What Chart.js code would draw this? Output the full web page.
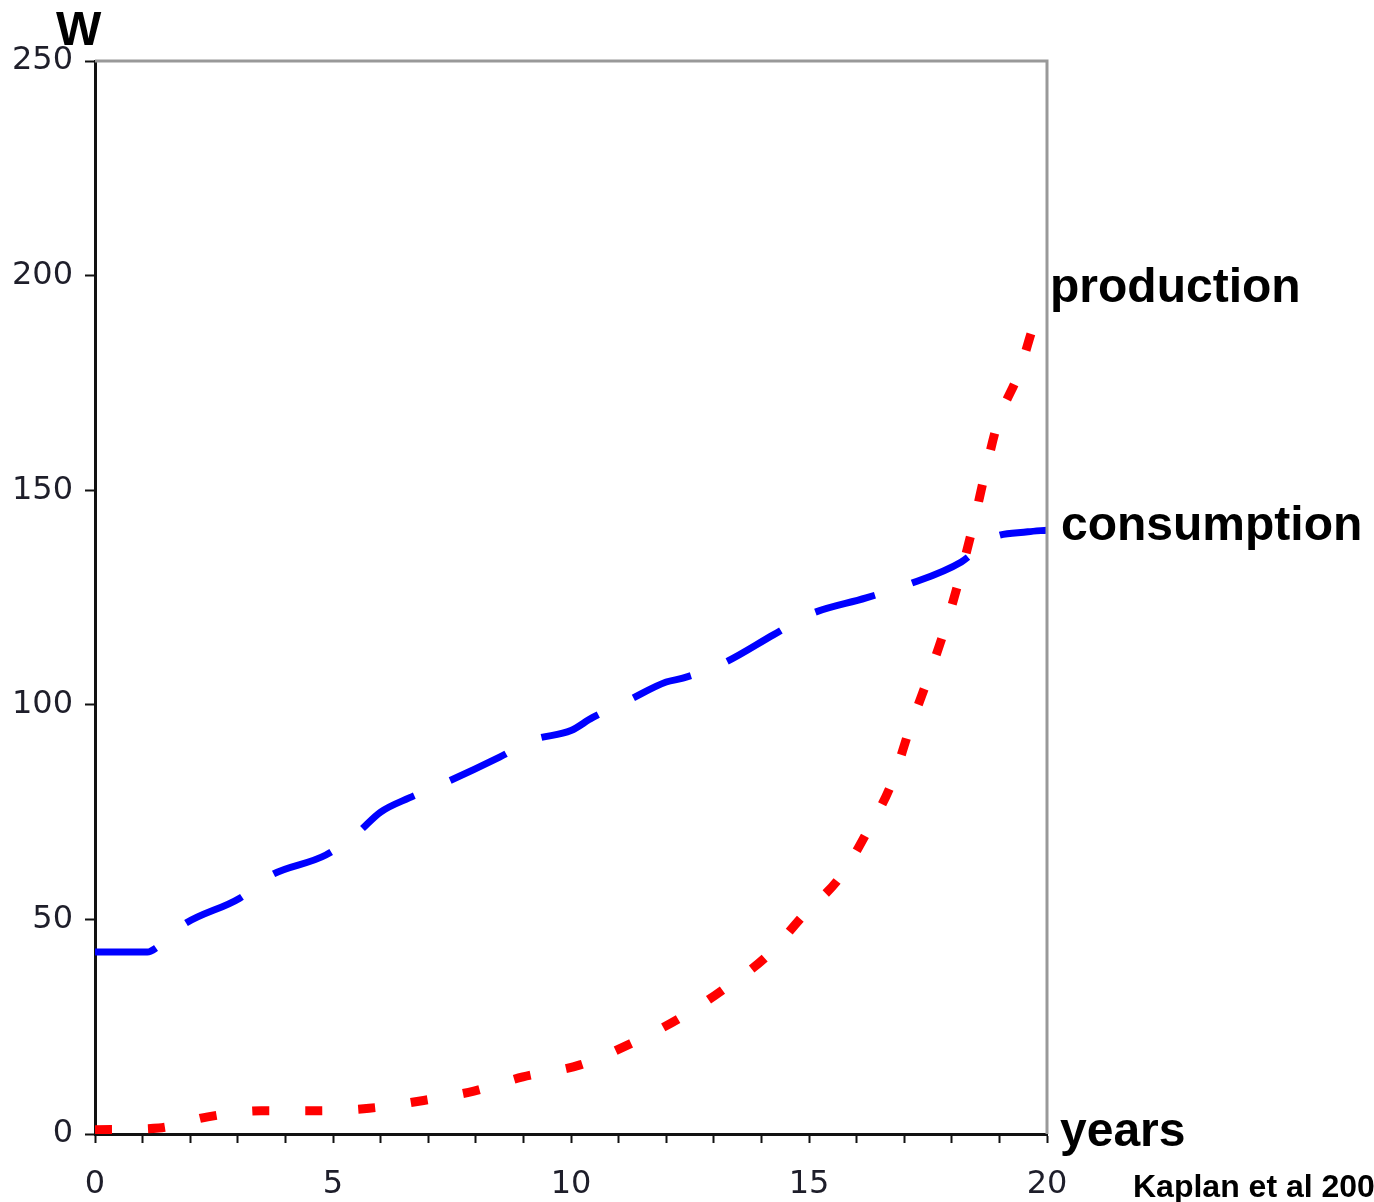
<!DOCTYPE html>
<html>
<head>
<meta charset="utf-8">
<script src="https://cdn.jsdelivr.net/npm/chart.js@4"></script>
<style>
  html, body { margin: 0; padding: 0; background: #fff; }
  #wrap { width: 1374px; height: 1202px; }
</style>
</head>
<body>
<div id="wrap"><canvas id="myChart" width="1374" height="1202"></canvas></div>
<script>
// years on the x axis, watts on the y axis
const consumptionYears = [0, 1.1, 1.3, 1.85, 3.05, 3.7, 4.85, 5.5, 6.0, 6.6, 7.35, 8.5, 9.2, 10.0, 10.45, 11.2, 12.0, 12.35, 13.2, 14.25, 15.0, 16.2, 17.05, 18.2, 18.85, 19.6, 20];
const consumption = [42.4, 42.4, 43.5, 48.7, 55, 60.3, 65, 70, 75, 78.3, 81.8, 87.8, 91.8, 94, 97, 101, 105.3, 106.2, 109.7, 116.3, 121, 124.9, 127.9, 133.3, 138.9, 140.3, 140.7];

const productionYears = [0, 1.34, 2.37, 3.49, 4.62, 5.76, 7.0, 7.96, 8.99, 10.19, 11.28, 12.33, 13.24, 14.14, 14.87, 15.67, 16.24, 16.74, 17.12, 17.5, 17.86, 18.17, 18.45, 18.7, 18.97, 19.41, 19.77, 20];
const production = [1, 1.4, 4, 5.4, 5.4, 6, 8, 10, 13.3, 16.1, 21.2, 27.3, 34, 41.7, 50.8, 60.1, 70.8, 81.8, 94.6, 106.2, 117.9, 129.8, 141.9, 154, 165.9, 177.3, 189.7, 193];

const xLabels = [0, 5, 10, 15, 20];
const yLabels = [0, 50, 100, 150, 200, 250];

function toPoints(xs, ys) {
  return xs.map(function(x, i) { return { x: x, y: ys[i] }; });
}

// frame + the text written round the plot
const extras = {
  id: 'extras',
  afterDraw: function(chart) {
    const c = chart.ctx;
    const a = chart.chartArea;
    c.save();
    c.strokeStyle = '#999';
    c.lineWidth = 3;
    c.beginPath();
    c.moveTo(a.left, a.top);
    c.lineTo(a.right, a.top);
    c.lineTo(a.right, a.bottom);
    c.stroke();

    c.fillStyle = '#000';
    c.textBaseline = 'alphabetic';
    c.textAlign = 'left';
    c.font = 'bold 48px "Liberation Sans", Arial, sans-serif';
    c.fillText('W', 56, 45);
    c.fillText('production', 1050, 302);
    c.fillText('consumption', 1061, 540);
    c.fillText('years', 1060, 1146);
    c.font = 'bold 32px "Liberation Sans", Arial, sans-serif';
    c.fillText('Kaplan et al 200', 1133, 1197);
    c.restore();
  }
};

document.addEventListener('DOMContentLoaded', function() {
  const ctx = document.getElementById('myChart');

  new Chart(ctx, {
    type: 'line',
    data: {
      datasets: [{
        label: 'consumption',
        data: toPoints(consumptionYears, consumption),
        borderColor: '#0000ff',
        borderWidth: 7,
        borderDash: [62, 39],
        pointRadius: 0,
        cubicInterpolationMode: 'monotone',
        fill: false
      },
      {
        label: 'production',
        data: toPoints(productionYears, production),
        borderColor: '#ff0000',
        borderWidth: 9,
        borderDash: [17, 36],
        pointRadius: 0,
        cubicInterpolationMode: 'monotone',
        fill: false
      }]
    },
    options: {
      responsive: false,
      animation: false,
      layout: { padding: { top: 61, right: 327, bottom: 0, left: 0 } },
      plugins: {
        legend: { display: false },
        tooltip: { enabled: false }
      },
      scales: {
        x: {
          type: 'linear',
          min: 0,
          max: 20,
          afterFit: function(s) { s.height = 68; },
          border: { color: '#111', width: 3 },
          grid: { drawOnChartArea: false, drawTicks: true, tickLength: 9, tickColor: '#111', tickWidth: 2 },
          ticks: {
            stepSize: 1,
            autoSkip: false,
            maxRotation: 0,
            padding: 22,
            color: '#1e1e2a',
            font: { family: '"DejaVu Sans", sans-serif', size: 32 },
            callback: function(v) { return xLabels.indexOf(v) >= 0 ? String(v) : ''; }
          }
        },
        y: {
          min: 0,
          max: 250,
          afterFit: function(s) { s.width = 95; },
          border: { color: '#111', width: 3 },
          grid: { drawOnChartArea: false, drawTicks: true, tickLength: 10, tickColor: '#111', tickWidth: 2 },
          ticks: {
            stepSize: 50,
            padding: 12,
            color: '#1e1e2a',
            font: { family: '"DejaVu Sans", sans-serif', size: 32 },
            callback: function(v) { return yLabels.indexOf(v) >= 0 ? String(v) : ''; }
          }
        }
      }
    },
    plugins: [extras]
  });
});
</script>
</body>
</html>
